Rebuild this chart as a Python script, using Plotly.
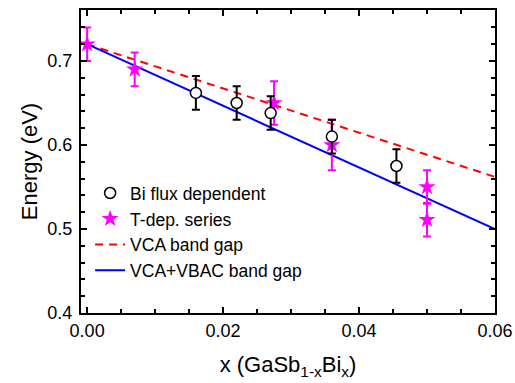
import plotly.graph_objects as go

# Bi flux dependent series
bi_x = [0.016, 0.022, 0.027, 0.036, 0.0455]
bi_y = [0.662, 0.650, 0.638, 0.610, 0.575]
bi_err = [0.020, 0.020, 0.020, 0.020, 0.020]

# T-dependent series
t_x = [0.0, 0.007, 0.0275, 0.036, 0.050, 0.050]
t_y = [0.720, 0.690, 0.650, 0.600, 0.550, 0.511]
t_err = [0.020, 0.020, 0.026, 0.030, 0.020, 0.020]

# Model lines
line_x = [0.0, 0.06]
vca_y = [0.720, 0.562]
vbac_y = [0.720, 0.500]

FONT = "Arial, Liberation Sans, sans-serif"

fig = go.Figure()
fig.add_trace(go.Scatter(x=line_x, y=vca_y, mode="lines", name="VCA band gap",
                         line=dict(color="#ff0000", width=2, dash="8px,6px"), legendrank=3))
fig.add_trace(go.Scatter(x=line_x, y=vbac_y, mode="lines", name="VCA+VBAC band gap",
                         line=dict(color="#0000ff", width=2), legendrank=4))
fig.add_trace(go.Scatter(x=t_x, y=t_y, mode="markers", name="T-dep. series",
                         marker=dict(symbol="star", size=13, color="#ff00ff", line=dict(width=0)),
                         error_y=dict(type="data", array=t_err, color="#ff00ff", thickness=2, width=4),
                         legendrank=2))
fig.add_trace(go.Scatter(x=bi_x, y=bi_y, mode="markers", name="Bi flux dependent",
                         marker=dict(symbol="circle", size=11, color="white", line=dict(color="black", width=1.5)),
                         error_y=dict(type="data", array=bi_err, color="black", thickness=2, width=4),
                         legendrank=1))

axis_common = dict(showline=True, linecolor="black", linewidth=2, mirror="ticks",
                   ticks="inside", tickcolor="black", tickwidth=1.5, ticklen=6,
                   showgrid=False, zeroline=False, automargin=False,
                   tickfont=dict(family=FONT, size=18, color="black"))

fig.update_xaxes(range=[-0.0009, 0.06], tickvals=[0, 0.02, 0.04, 0.06],
                 ticktext=["0.00", "0.02", "0.04", "0.06"],
                 minor=dict(dtick=0.005, ticks="inside", ticklen=4, tickcolor="black", tickwidth=1.5),
                 title=dict(text="x (GaSb<sub>1-x</sub>Bi<sub>x</sub>)", font=dict(family=FONT, size=22, color="black"),
                            standoff=17),
                 **axis_common)
fig.update_yaxes(range=[0.4, 0.7607], tickvals=[0.4, 0.5, 0.6, 0.7],
                 ticktext=["0.4", "0.5", "0.6", "0.7"],
                 ticklabelstandoff=3,
                 minor=dict(dtick=0.02, ticks="inside", ticklen=4, tickcolor="black", tickwidth=1.5),
                 title=dict(text="Energy (eV)", font=dict(family=FONT, size=22, color="black"), standoff=4),
                 **axis_common)

fig.update_layout(
    template="none",
    width=515, height=383,
    margin=dict(l=81, r=20, t=10, b=70),
    paper_bgcolor="white", plot_bgcolor="white",
    font=dict(family=FONT, size=18, color="black"),
    showlegend=True,
    legend=dict(x=0.022, y=0.455, xanchor="left", yanchor="top", bgcolor="rgba(0,0,0,0)",
                font=dict(family=FONT, size=17.5, color="black"), tracegroupgap=0),
)

fig.write_html("out.html", config={"displayModeBar": False},
               post_script="document.body.style.margin='0';document.body.style.overflow='hidden';")
